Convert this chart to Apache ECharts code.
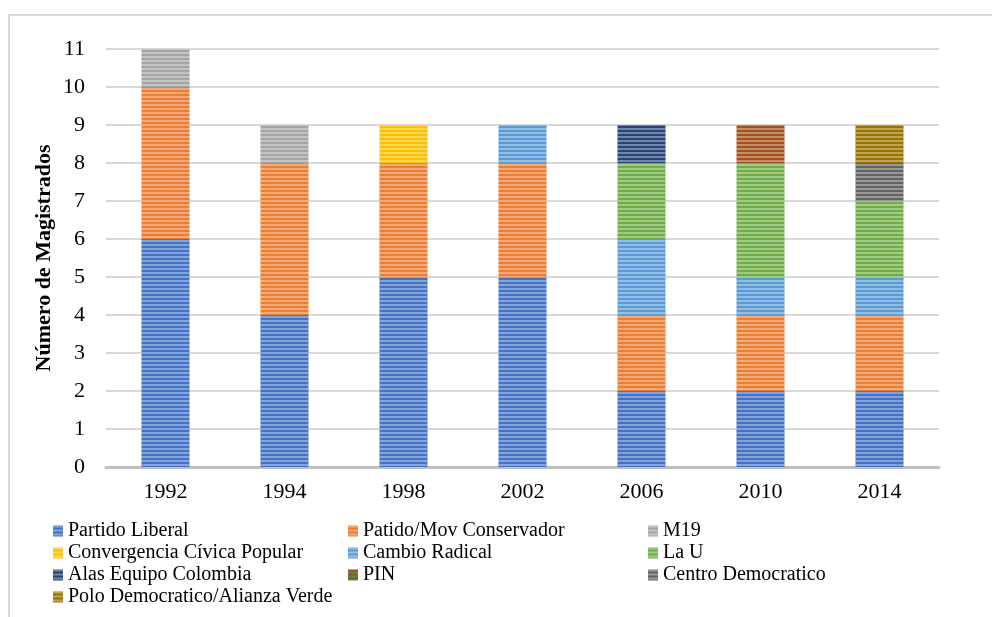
<!DOCTYPE html>
<html>
<head>
<meta charset="utf-8">
<script src="https://cdn.jsdelivr.net/npm/echarts@6/dist/echarts.min.js"></script>
<style>
  html, body { margin: 0; padding: 0; background: #fff; }
  #chart { width: 992px; height: 617px; }
</style>
</head>
<body>
<div id="chart"></div>
<script>
// años (categorias)
var years = ['1992', '1994', '1998', '2002', '2006', '2010', '2014'];

// magistrados por partido y año
var liberal      = [6, 4, 5, 5, 2, 2, 2];
var conservador  = [4, 4, 3, 3, 2, 2, 2];
var m19          = [1, 1, 0, 0, 0, 0, 0];
var convergencia = [0, 0, 1, 0, 0, 0, 0];
var cambio       = [0, 0, 0, 1, 2, 1, 1];
var laU          = [0, 0, 0, 0, 2, 3, 2];
var alas         = [0, 0, 0, 0, 1, 0, 0];
var pin          = [0, 0, 0, 0, 0, 1, 0];
var centro       = [0, 0, 0, 0, 0, 0, 1];
var polo         = [0, 0, 0, 0, 0, 0, 1];

var yTicks = [0, 11, 1]; // min, max, intervalo

var partidos = [
  { name: 'Partido Liberal',                 data: liberal,      color: '#4472c4' },
  { name: 'Patido/Mov Conservador',          data: conservador,  color: '#ed7d31' },
  { name: 'M19',                             data: m19,          color: '#a5a5a5' },
  { name: 'Convergencia Cívica Popular',     data: convergencia, color: '#ffc000' },
  { name: 'Cambio Radical',                  data: cambio,       color: '#5b9bd5' },
  { name: 'La U',                            data: laU,          color: '#70ad47' },
  { name: 'Alas Equipo Colombia',            data: alas,         color: '#264478' },
  { name: 'PIN',                             data: pin,          color: '#a5501c' },
  { name: 'Centro Democratico',              data: centro,       color: '#636363' },
  { name: 'Polo Democratico/Alianza Verde',  data: polo,         color: '#997300' }
];

var chart = echarts.init(document.getElementById('chart'));

var fuente = '"Liberation Serif", "Times New Roman", serif';

// rayas horizontales blancas sobre las barras
var rayas = {
  symbol: 'rect',
  symbolSize: 1,
  dashArrayX: [1, 0],
  dashArrayY: [2, 2],
  rotation: 0,
  color: 'rgba(255,255,255,0.35)'
};

var textoLeyenda = { fontFamily: fuente, fontSize: 20, color: '#000', lineHeight: 22 };

function leyenda(nombres, left) {
  return {
    orient: 'vertical',
    left: left,
    top: 520,
    itemWidth: 10,
    itemHeight: 11,
    itemGap: 0,
    icon: 'rect',
    padding: 0,
    textStyle: textoLeyenda,
    data: nombres.map(function (n) {
      var item = { name: n, textStyle: textoLeyenda };
      if (n === 'PIN') {
        item.itemStyle = { color: '#3a9a4a', decal: { symbol: 'rect', dashArrayX: [1, 0], dashArrayY: [2, 2], color: 'rgba(190,60,40,0.8)' } };
      }
      return item;
    })
  };
}

var option = {
  backgroundColor: '#fff',
  animation: false,
  textStyle: { fontFamily: fuente },
  graphic: [{
    type: 'rect',
    shape: { x: 9, y: 15, width: 1000, height: 700 },
    style: { fill: 'none', stroke: '#d9d9d9', lineWidth: 2 },
    silent: true
  }],
  grid: { left: 106, right: 53, top: 49, bottom: 150 },
  legend: [
    leyenda(['Partido Liberal', 'Convergencia Cívica Popular', 'Alas Equipo Colombia', 'Polo Democratico/Alianza Verde'], 53),
    leyenda(['Patido/Mov Conservador', 'Cambio Radical', 'PIN'], 348),
    leyenda(['M19', 'La U', 'Centro Democratico'], 648)
  ],
  xAxis: {
    type: 'category',
    data: years,
    axisLine: { lineStyle: { color: '#bfbfbf', width: 3 } },
    axisTick: { show: false },
    axisLabel: { fontFamily: fuente, fontSize: 22, color: '#000', margin: 14 }
  },
  yAxis: {
    type: 'value',
    min: yTicks[0],
    max: yTicks[1],
    interval: yTicks[2],
    name: 'Número de Magistrados',
    nameLocation: 'middle',
    nameGap: 51,
    nameMoveOverlap: false,
    nameTextStyle: { fontFamily: fuente, fontSize: 22, fontWeight: 'bold', color: '#000' },
    axisLine: { show: false },
    axisTick: { show: false },
    axisLabel: { fontFamily: fuente, fontSize: 22, color: '#000', margin: 21 },
    splitLine: { lineStyle: { color: '#d9d9d9', width: 2 } }
  },
  series: partidos.map(function (p) {
    return {
      name: p.name,
      type: 'bar',
      stack: 'total',
      barWidth: 48,
      data: p.data.map(function (v) { return v === 0 ? null : v; }),
      itemStyle: { color: p.color, decal: rayas }
    };
  })
};

chart.setOption(option);
</script>
</body>
</html>
